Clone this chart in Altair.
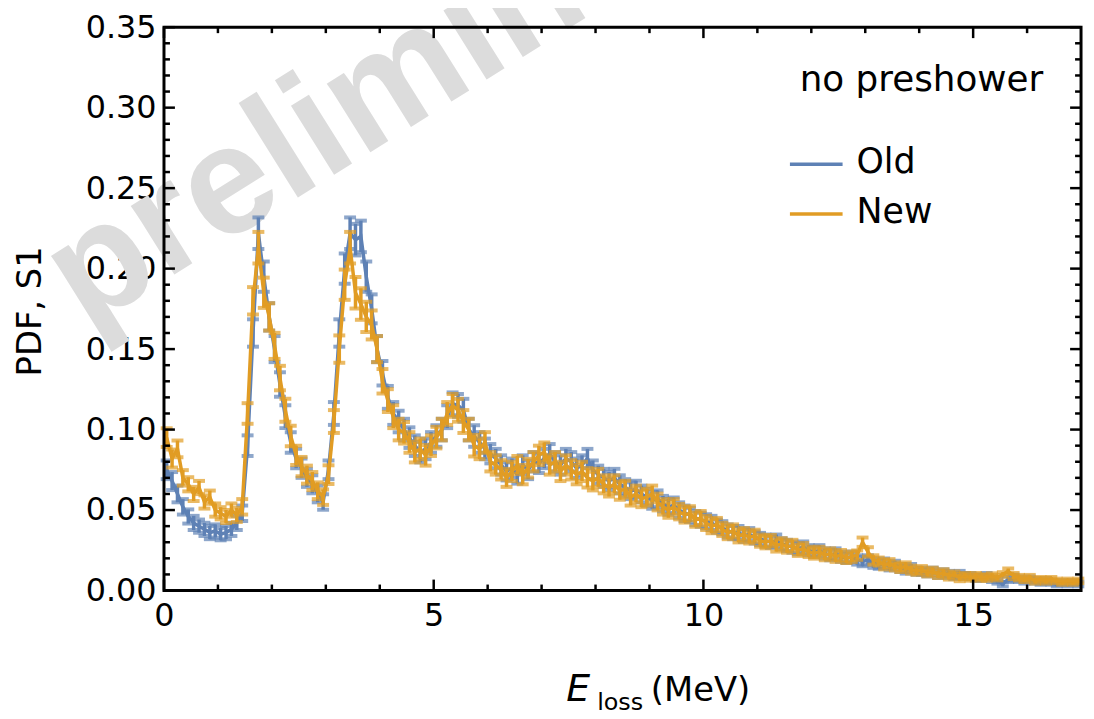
import altair as alt
import pandas as pd

# ---------------- data ----------------
BIN_START = 0.05
BIN_WIDTH = 0.1

old_pdf = [
    0.075, 0.068, 0.060, 0.052, 0.046, 0.042, 0.040, 0.038, 0.036, 0.037,
    0.035, 0.036, 0.038, 0.042, 0.048, 0.090, 0.160, 0.222, 0.195, 0.170,
    0.150, 0.128, 0.108, 0.092, 0.082, 0.076, 0.070, 0.066, 0.060, 0.055,
    0.075, 0.110, 0.160, 0.200, 0.222, 0.218, 0.220, 0.195, 0.175, 0.150,
    0.135, 0.120, 0.110, 0.105, 0.100, 0.095, 0.090, 0.086, 0.088, 0.092,
    0.096, 0.100, 0.108, 0.116, 0.115, 0.112, 0.100, 0.096, 0.092, 0.088,
    0.085, 0.082, 0.078, 0.074, 0.076, 0.072, 0.078, 0.075, 0.080, 0.079,
    0.082, 0.085, 0.080, 0.078, 0.082, 0.080, 0.076, 0.078, 0.082, 0.075,
    0.072, 0.070, 0.068, 0.070, 0.066, 0.064, 0.062, 0.063, 0.060, 0.058,
    0.056, 0.057, 0.054, 0.052, 0.053, 0.050, 0.048, 0.047, 0.045, 0.044,
    0.043, 0.042, 0.040, 0.039, 0.037, 0.036, 0.036, 0.034, 0.035, 0.033,
    0.032, 0.031, 0.030, 0.031, 0.029, 0.028, 0.027, 0.026, 0.027, 0.025,
    0.024, 0.025, 0.023, 0.022, 0.023, 0.021, 0.020, 0.021, 0.019, 0.018,
    0.019, 0.017, 0.016, 0.017, 0.015, 0.016, 0.014, 0.013, 0.014, 0.012,
    0.012, 0.011, 0.012, 0.010, 0.011, 0.010, 0.009, 0.010, 0.009, 0.009,
    0.008, 0.008, 0.009, 0.007, 0.006, 0.004, 0.007, 0.008, 0.007, 0.006,
    0.007, 0.006, 0.005, 0.006, 0.005, 0.004, 0.005, 0.004, 0.005, 0.004,
]

new_pdf = [
    0.095, 0.082, 0.088, 0.070, 0.066, 0.060, 0.064, 0.055, 0.058, 0.050,
    0.048, 0.046, 0.050, 0.047, 0.052, 0.110, 0.180, 0.213, 0.185, 0.170,
    0.152, 0.132, 0.112, 0.096, 0.084, 0.077, 0.072, 0.068, 0.062, 0.058,
    0.072, 0.105, 0.150, 0.190, 0.213, 0.185, 0.178, 0.170, 0.165, 0.150,
    0.130, 0.118, 0.108, 0.100, 0.098, 0.092, 0.086, 0.088, 0.084, 0.090,
    0.095, 0.100, 0.110, 0.115, 0.112, 0.105, 0.100, 0.090, 0.088, 0.092,
    0.080, 0.078, 0.075, 0.070, 0.074, 0.078, 0.072, 0.076, 0.080, 0.084,
    0.086, 0.078, 0.080, 0.074, 0.078, 0.075, 0.072, 0.074, 0.070, 0.068,
    0.070, 0.066, 0.064, 0.066, 0.062, 0.063, 0.058, 0.060, 0.057, 0.058,
    0.060, 0.055, 0.052, 0.050, 0.052, 0.049, 0.047, 0.048, 0.044, 0.045,
    0.042, 0.040, 0.041, 0.038, 0.036, 0.037, 0.034, 0.035, 0.033, 0.034,
    0.031, 0.030, 0.031, 0.028, 0.029, 0.027, 0.028, 0.025, 0.026, 0.024,
    0.023, 0.024, 0.022, 0.023, 0.021, 0.022, 0.020, 0.021, 0.022, 0.030,
    0.024, 0.019, 0.018, 0.016, 0.017, 0.015, 0.014, 0.015, 0.013, 0.012,
    0.013, 0.011, 0.012, 0.010, 0.011, 0.009, 0.010, 0.008, 0.009, 0.008,
    0.009, 0.008, 0.008, 0.009, 0.008, 0.010, 0.012, 0.009, 0.008, 0.007,
    0.008, 0.006, 0.007, 0.006, 0.007, 0.006, 0.005, 0.006, 0.005, 0.006,
]

pdf_err = [
    0.0058, 0.0056, 0.0052, 0.0048, 0.0044, 0.0044, 0.0041, 0.0041, 0.0041, 0.0041,
    0.0038, 0.0041, 0.0041, 0.0044, 0.0048, 0.0064, 0.0085, 0.0098, 0.0094, 0.0085,
    0.0081, 0.0076, 0.0071, 0.0064, 0.0060, 0.0060, 0.0056, 0.0056, 0.0052, 0.0048,
    0.0058, 0.0071, 0.0085, 0.0094, 0.0098, 0.0098, 0.0098, 0.0094, 0.0090, 0.0081,
    0.0076, 0.0071, 0.0071, 0.0067, 0.0067, 0.0064, 0.0064, 0.0064, 0.0064, 0.0064,
    0.0067, 0.0067, 0.0071, 0.0071, 0.0071, 0.0071, 0.0067, 0.0067, 0.0064, 0.0064,
    0.0060, 0.0060, 0.0060, 0.0056, 0.0060, 0.0056, 0.0060, 0.0058, 0.0060, 0.0060,
    0.0060, 0.0060, 0.0060, 0.0060, 0.0060, 0.0060, 0.0060, 0.0060, 0.0060, 0.0058,
    0.0056, 0.0056, 0.0056, 0.0056, 0.0056, 0.0052, 0.0052, 0.0052, 0.0052, 0.0052,
    0.0052, 0.0052, 0.0048, 0.0048, 0.0048, 0.0048, 0.0048, 0.0044, 0.0044, 0.0044,
    0.0044, 0.0044, 0.0041, 0.0041, 0.0041, 0.0041, 0.0041, 0.0038, 0.0038, 0.0038,
    0.0038, 0.0038, 0.0035, 0.0038, 0.0035, 0.0035, 0.0035, 0.0035, 0.0035, 0.0032,
    0.0032, 0.0032, 0.0032, 0.0032, 0.0032, 0.0032, 0.0029, 0.0032, 0.0029, 0.0029,
    0.0029, 0.0029, 0.0025, 0.0029, 0.0025, 0.0025, 0.0025, 0.0025, 0.0025, 0.0022,
    0.0022, 0.0022, 0.0022, 0.0022, 0.0022, 0.0022, 0.0019, 0.0022, 0.0019, 0.0019,
    0.0019, 0.0019, 0.0019, 0.0017, 0.0017, 0.0014, 0.0017, 0.0019, 0.0017, 0.0017,
    0.0017, 0.0017, 0.0014, 0.0017, 0.0014, 0.0014, 0.0014, 0.0014, 0.0014, 0.0014,
]

series_names = ["Old", "New"]
series_colors = ["#5E81B5", "#E19C24"]

x_major = [0, 5, 10, 15]
x_minor = [1, 2, 3, 4, 6, 7, 8, 9, 11, 12, 13, 14, 16]
y_major = [0.0, 0.05, 0.10, 0.15, 0.20, 0.25, 0.30, 0.35]
y_minor = [0.01, 0.02, 0.03, 0.04, 0.06, 0.07, 0.08, 0.09, 0.11, 0.12, 0.13, 0.14,
           0.16, 0.17, 0.18, 0.19, 0.21, 0.22, 0.23, 0.24, 0.26, 0.27, 0.28, 0.29,
           0.31, 0.32, 0.33, 0.34]

panel_label = "no preshower"
x_title_main = "E"
x_title_sub = "loss"
x_title_unit = "(MeV)"
y_title = "PDF, S1"
watermark = "preliminary"

# ---------------- build tables ----------------
energy = [round(BIN_START + BIN_WIDTH * i, 3) for i in range(len(old_pdf))]


def make_df(vals, name):
    return pd.DataFrame({
        "energy": energy,
        "pdf": vals,
        "lo": [v - e for v, e in zip(vals, pdf_err)],
        "hi": [v + e for v, e in zip(vals, pdf_err)],
        "series": name,
    })


df_old = make_df(old_pdf, series_names[0])
df_new = make_df(new_pdf, series_names[1])

W, H = 923, 567
FONT = "DejaVu Sans"

xscale = alt.Scale(domain=[0, 17], nice=False, zero=False)
yscale = alt.Scale(domain=[0, 0.35], nice=False, zero=False)

x_axis = alt.Axis(values=x_major, labelFont=FONT, labelFontSize=32, labelColor="black",
                  grid=False, domain=False, ticks=False, labelPadding=10, title=None,
                  labelFlush=False)
y_axis = alt.Axis(values=y_major, format=".2f", labelFont=FONT, labelFontSize=32,
                  labelColor="black", grid=False, domain=False, ticks=False,
                  labelPadding=8, title=None, labelFlush=False)


def X(field):
    return alt.X(field, scale=xscale, axis=x_axis)


def Y(field):
    return alt.Y(field, scale=yscale, axis=y_axis)


# watermark (drawn first, behind data)
wm = alt.Chart(pd.DataFrame({"t": [watermark]})).mark_text(
    font="Liberation Sans", fontWeight="bold", fontSize=155, color="#DCDCDC",
    align="left", baseline="alphabetic", angle=328
).encode(x=alt.value(86 - 165), y=alt.value(330 - 25), text="t:N")


def series_layers(df, color):
    line = alt.Chart(df).mark_line(color=color, strokeWidth=3.5).encode(
        x=X("energy:Q"), y=Y("pdf:Q"))
    bars = alt.Chart(df).mark_rule(color=color, strokeWidth=3.5).encode(
        x=X("energy:Q"), y=Y("lo:Q"), y2="hi:Q")
    cap_lo = alt.Chart(df).mark_tick(color=color, orient="horizontal", size=12,
                                     thickness=4).encode(x=X("energy:Q"), y=Y("lo:Q"))
    cap_hi = alt.Chart(df).mark_tick(color=color, orient="horizontal", size=12,
                                     thickness=4).encode(x=X("energy:Q"), y=Y("hi:Q"))
    return [line, bars, cap_lo, cap_hi]


# inward frame ticks
def xticks(vals, length):
    d = pd.DataFrame({"v": vals})
    bottom = alt.Chart(d).mark_rule(color="black", strokeWidth=2.5).encode(
        x=X("v:Q"), y=alt.value(H), y2=alt.value(H - length))
    top = alt.Chart(d).mark_rule(color="black", strokeWidth=2.5).encode(
        x=X("v:Q"), y=alt.value(0), y2=alt.value(length))
    return [bottom, top]


def yticks(vals, length):
    d = pd.DataFrame({"v": vals})
    left = alt.Chart(d).mark_rule(color="black", strokeWidth=2.5).encode(
        y=Y("v:Q"), x=alt.value(0), x2=alt.value(length))
    right = alt.Chart(d).mark_rule(color="black", strokeWidth=2.5).encode(
        y=Y("v:Q"), x=alt.value(W), x2=alt.value(W - length))
    return [left, right]


tick_layers = xticks(x_major, 11) + xticks(x_minor, 6) + yticks(y_major, 11) + yticks(y_minor, 6)

one = pd.DataFrame({"a": [0]})
frame = alt.Chart(one).mark_rect(fillOpacity=0, stroke="black", strokeWidth=3).encode(
    x=alt.value(0), x2=alt.value(W), y=alt.value(0), y2=alt.value(H))

# legend / annotations
label_layer = alt.Chart(one).mark_text(
    font=FONT, fontSize=36, color="black", align="right", baseline="middle"
).encode(x=alt.value(885), y=alt.value(53), text=alt.value(panel_label))

leg = []
for i, (name, col) in enumerate(zip(series_names, series_colors)):
    yy = 138 + 50 * i
    leg.append(alt.Chart(one).mark_rule(color=col, strokeWidth=3.5).encode(
        x=alt.value(630), x2=alt.value(683), y=alt.value(yy)))
    leg.append(alt.Chart(one).mark_text(
        font=FONT, fontSize=35, color="black", align="left", baseline="middle"
    ).encode(x=alt.value(697), y=alt.value(yy - 2), text=alt.value(name)))

xt = [
    alt.Chart(one).mark_text(font=FONT, fontSize=38, fontStyle="italic", color="black",
                             align="left", baseline="alphabetic").encode(
        x=alt.value(570 - 165), y=alt.value(703 - 25), text=alt.value(x_title_main)),
    alt.Chart(one).mark_text(font=FONT, fontSize=24, color="black",
                             align="left", baseline="alphabetic").encode(
        x=alt.value(601 - 165), y=alt.value(712 - 25), text=alt.value(x_title_sub)),
    alt.Chart(one).mark_text(font=FONT, fontSize=34, color="black",
                             align="left", baseline="alphabetic").encode(
        x=alt.value(655 - 165), y=alt.value(703 - 25), text=alt.value(x_title_unit)),
]
yt = alt.Chart(one).mark_text(font=FONT, fontSize=34, color="black", align="center",
                              baseline="middle", angle=270).encode(
    x=alt.value(31 - 165), y=alt.value(311 - 25), text=alt.value(y_title))

layers = ([wm]
          + series_layers(df_old, series_colors[0])
          + series_layers(df_new, series_colors[1])
          + [frame] + tick_layers + [label_layer] + leg + xt + [yt])

chart = alt.layer(*layers).properties(
    width=W, height=H,
    autosize=alt.AutoSizeParams(type="none"),
    padding={"left": 157, "top": 17, "right": 5, "bottom": 127},
).configure_view(strokeWidth=0).configure(background="white")

chart.save("out.html", embed_options={"renderer": "svg", "actions": False})
